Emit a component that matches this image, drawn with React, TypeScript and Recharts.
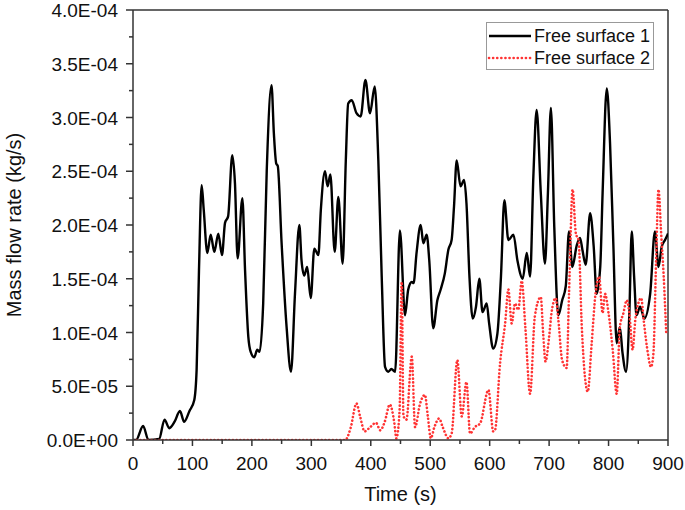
import { Line, LineChart, ReferenceLine, XAxis, YAxis } from "recharts";

// values in units of 1e-4 kg/s
const timeS1 = [
  0, 5, 17, 26, 44, 53, 61, 70, 79, 86, 95, 103, 107, 111, 115.5, 119, 125, 130.7, 136.8, 143.5,
  149.7, 154.8, 160, 167, 171.5, 176, 184, 188.5, 194, 198, 204, 209, 213, 219, 225, 233, 237, 241,
  243.5, 250, 258.4, 265.8, 272.5, 279.8, 283.5, 288, 293, 299, 305, 311.8, 316, 323, 327.4, 332,
  339.3, 345.4, 352.7, 358, 362, 368, 376, 383, 391, 398.7, 406.6, 412.7, 418.4, 424, 429.5, 434.6,
  441, 449, 457.6, 463, 469, 472, 477, 484, 488.4, 494, 498.4, 505, 512, 517.6, 524.6, 530.5, 536,
  540, 544.5, 551, 557, 561, 566, 571.5, 577, 582.6, 588, 595, 599, 606, 613, 619, 624.7, 631.5,
  640, 646.7, 655.6, 662.4, 668, 673.5, 679, 686, 693, 698, 703, 708.7, 715.5, 722, 728, 733.5, 739,
  746.5, 752, 756, 761.5, 769, 775, 780, 786, 790, 797, 802.5, 808, 813.7, 819, 823.5, 829.4, 835,
  839, 843, 847, 853, 857, 860, 870, 878, 884, 889.5, 895, 900,
];
const flowS1 = [
  0, 0, 0.13, 0, 0.01, 0.19, 0.11, 0.17, 0.27, 0.17, 0.27, 0.37, 0.65, 1.58, 2.37, 2.14, 1.74, 1.91,
  1.75, 1.92, 1.72, 2.02, 2.08, 2.65, 2.39, 1.69, 2.25, 1.58, 0.96, 0.82, 0.77, 0.84, 0.82, 1.27,
  2.51, 3.3, 2.85, 2.57, 2.55, 1.83, 1.05, 0.635, 1.36, 2.0, 1.67, 1.53, 1.61, 1.32, 1.78, 1.72,
  2.14, 2.5, 2.36, 2.47, 1.75, 2.26, 1.64, 2.6, 3.13, 3.16, 3.04, 3.01, 3.35, 3.04, 3.29, 2.6, 1.52,
  0.68, 0.635, 0.66, 0.635, 1.95, 1.16, 1.4, 1.47, 1.46, 1.74, 2.0, 1.83, 1.91, 1.67, 1.04, 1.3,
  1.4, 1.55, 1.77, 1.86, 2.17, 2.6, 2.36, 2.42, 2.2, 1.52, 1.13, 1.24, 1.5, 1.19, 1.27, 1.09, 0.85,
  0.99, 1.52, 2.23, 1.86, 1.91, 1.67, 1.5, 1.74, 1.52, 2.45, 3.07, 2.3, 1.64, 2.3, 3.09, 1.98, 1.16,
  1.3, 1.43, 1.94, 1.61, 1.81, 1.88, 1.77, 1.63, 2.11, 1.8, 1.36, 1.61, 2.3, 3.27, 2.76, 1.83, 0.9,
  1.05, 0.81, 0.635, 1.18, 1.94, 1.52, 1.16, 1.24, 1.18, 1.13, 1.36, 1.94, 1.61, 1.8, 1.86, 1.92,
];

const timeS2 = [
  0, 357, 366, 376, 382, 389.6, 399, 408.8, 416, 423.5, 432, 439.7, 443, 448.5, 452, 455, 460, 469,
  474.5, 483, 491, 496, 501, 507, 515, 521, 530.5, 536, 545.6, 553, 561, 567, 575, 584, 598, 606,
  609, 617.4, 626, 631.5, 637, 642.7, 648, 654, 660, 668, 676, 686, 690, 694, 700, 704, 711, 715.5,
  722, 729.5, 733.5, 739.5, 745, 749.5, 755, 765, 771.6, 778, 784, 790, 794, 800, 807, 813.7, 819,
  825, 830.6, 835, 840.5, 845, 850, 855, 859, 864.5, 871.5, 875.5, 880, 884, 888.5, 892.5, 897,
];
const flowS2 = [
  0, 0, 0.11, 0.34, 0.22, 0.08, 0.12, 0.16, 0.09, 0.17, 0.33, 0.155, 0.015, 0.28, 1.47, 0.22, 0.19,
  0.775, 0.12, 0.34, 0.42, 0.22, 0.016, 0.12, 0.2, 0.12, 0.016, 0.06, 0.744, 0.22, 0.54, 0.06, 0.12,
  0.155, 0.465, 0.08, 0.09, 0.71, 1.085, 1.4, 1.085, 1.27, 1.21, 1.48, 1.05, 0.43, 1.15, 1.33, 0.99,
  0.73, 0.96, 1.18, 1.32, 1.12, 0.74, 0.67, 1.36, 2.33, 1.92, 1.86, 1.05, 0.45, 0.9, 1.36, 1.52,
  1.18, 1.36, 1.18, 0.84, 0.43, 1.05, 1.18, 1.3, 1.18, 0.84, 1.12, 1.27, 1.32, 1.12, 0.87, 0.68,
  0.81, 1.67, 2.33, 1.92, 1.55, 1.0,
];

const xTicks = [0, 50, 100, 150, 200, 250, 300, 350, 400, 450, 500, 550, 600, 650, 700, 750, 800, 850, 900];
const yTicks = [0, 0.25, 0.5, 0.75, 1, 1.25, 1.5, 1.75, 2, 2.25, 2.5, 2.75, 3, 3.25, 3.5, 3.75, 4].map(
  (v) => v * 1e-4
);

const series1 = timeS1.map((t, i) => ({ t, v: flowS1[i] * 1e-4 }));
const series2 = timeS2.map((t, i) => ({ t, v: flowS2[i] * 1e-4 }));

const font = "'Liberation Sans', Arial, sans-serif";
const frame = "#333";

const sci = (v: number) =>
  v
    .toExponential(1)
    .toUpperCase()
    .replace(/E([+-])(\d)$/, "E$10$2");

const XTick = (props: any) => {
  const { x, y, payload } = props;
  const major = payload.value % 100 === 0;
  return (
    <g>
      <line x1={x} y1={y} x2={x} y2={y + (major ? 6 : 4)} stroke={frame} strokeWidth={1.5} />
      {major && (
        <text x={x} y={y + 30} textAnchor="middle" fontSize={19} fontFamily={font} fill="#111">
          {payload.value}
        </text>
      )}
    </g>
  );
};

const YTick = (props: any) => {
  const { x, y, payload } = props;
  const major = Math.round(payload.value / 2.5e-5) % 2 === 0;
  return (
    <g>
      <line x1={x - (major ? 7 : 4)} y1={y} x2={x} y2={y} stroke={frame} strokeWidth={1.5} />
      {major && (
        <text x={x - 15} y={y + 7} textAnchor="end" fontSize={19} fontFamily={font} fill="#111">
          {sci(payload.value)}
        </text>
      )}
    </g>
  );
};

const legendItems = [
  { name: "Free surface 1", color: "#000", dash: undefined as string | undefined },
  { name: "Free surface 2", color: "#f33", dash: "0.1 4" },
];

const LegendBox = () => (
  <div
    style={{
      position: "absolute",
      left: 486,
      top: 22,
      border: "1px solid #999",
      background: "#fff",
      width: 168,
      height: 48,
      boxSizing: "border-box",
      fontFamily: font,
      fontSize: 18,
      color: "#111",
      paddingTop: 2,
    }}
  >
    {legendItems.map((item) => (
      <div key={item.name} style={{ display: "flex", alignItems: "center", height: 22 }}>
        <svg width={46} height={10} style={{ marginRight: 1 }}>
          <line
            x1={2}
            y1={5}
            x2={44}
            y2={5}
            stroke={item.color}
            strokeWidth={item.dash ? 2.6 : 2.4}
            strokeDasharray={item.dash}
            strokeLinecap={item.dash ? "round" : "butt"}
          />
        </svg>
        <span>{item.name}</span>
      </div>
    ))}
  </div>
);

export default function App() {
  return (
    <div style={{ position: "absolute", left: 0, top: 0, width: 685, height: 510, background: "#fff" }}>
      <LineChart width={685} height={510} margin={{ top: 10, right: 17, left: 0, bottom: 0 }}>
        <XAxis
          type="number"
          dataKey="t"
          domain={[0, 900]}
          ticks={xTicks}
          interval={0}
          allowDataOverflow
          height={70}
          tickSize={0}
          tickMargin={0}
          tick={<XTick />}
          axisLine={{ stroke: frame, strokeWidth: 1.5 }}
          label={{
            value: "Time (s)",
            position: "insideBottom",
            offset: 9,
            style: { fontSize: 20, fontFamily: font, fill: "#111" },
          }}
        />
        <YAxis
          type="number"
          dataKey="v"
          domain={[0, 4e-4]}
          ticks={yTicks}
          interval={0}
          allowDataOverflow
          width={133}
          tickSize={0}
          tickMargin={0}
          tick={<YTick />}
          axisLine={{ stroke: frame, strokeWidth: 1.5 }}
          label={{
            value: "Mass flow rate (kg/s)",
            angle: -90,
            position: "insideLeft",
            offset: 14,
            style: { fontSize: 20, fontFamily: font, fill: "#111", textAnchor: "middle" },
          }}
        />
        <ReferenceLine y={4e-4} stroke={frame} strokeWidth={1.5} />
        <ReferenceLine x={900} stroke={frame} strokeWidth={1.5} />
        <Line
          data={series1}
          dataKey="v"
          name="Free surface 1"
          type="monotone"
          stroke="#000"
          strokeWidth={2.4}
          dot={false}
          activeDot={false}
          isAnimationActive={false}
        />
        <Line
          data={series2}
          dataKey="v"
          name="Free surface 2"
          type="monotone"
          stroke="#f33"
          strokeWidth={2.6}
          strokeDasharray="0.1 3.6"
          strokeLinecap="round"
          dot={false}
          activeDot={false}
          isAnimationActive={false}
        />
      </LineChart>
      <LegendBox />
    </div>
  );
}
